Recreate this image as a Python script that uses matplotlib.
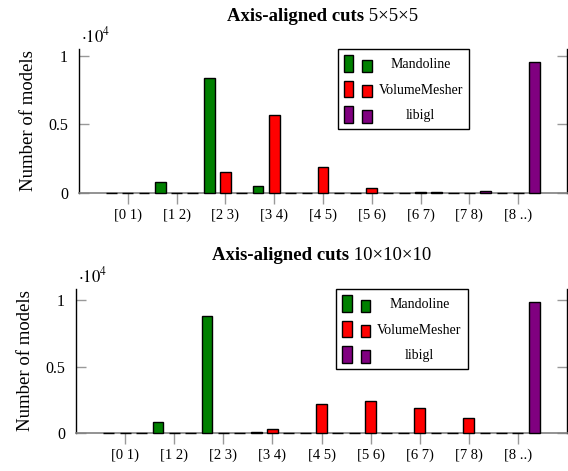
import matplotlib
matplotlib.use("Agg")
import matplotlib.pyplot as plt
import numpy as np
from matplotlib.patches import Rectangle
from matplotlib.legend_handler import HandlerBase

plt.rcParams['font.family'] = ['Liberation Serif', 'DejaVu Serif']
plt.rcParams['mathtext.fontset'] = 'stix'

categories = ["[0 1)", "[1 2)", "[2 3)", "[3 4)", "[4 5)", "[5 6)", "[6 7)", "[7 8)", "[8 ..)"]
series_names = ["Mandoline", "VolumeMesher", "libigl"]
colors = ["#008000", "#ff0000", "#800080"]

# 5x5x5
mandoline_5 = [0, 830, 8420, 530, 0, 0, 0, 0, 0]
volumemesher_5 = [0, 0, 1530, 5670, 1920, 370, 80, 30, 0]
libigl_5 = [0, 0, 0, 0, 0, 0, 50, 120, 9580]

# 10x10x10
mandoline_10 = [0, 850, 8800, 100, 0, 0, 0, 0, 0]
volumemesher_10 = [0, 0, 0, 280, 2160, 2380, 1860, 1130, 0]
libigl_10 = [0, 0, 0, 0, 0, 0, 0, 0, 9850]

titles = ["Axis-aligned cuts", "Axis-aligned cuts"]
title_suffix = [" 5\u00d75\u00d75", " 10\u00d710\u00d710"]

W, H = 568, 471
fig = plt.figure(figsize=(W / 100, H / 100), dpi=100)


class TwoRectHandler(HandlerBase):
    def create_artists(self, legend, orig_handle, xdescent, ydescent,
                       width, height, fontsize, trans):
        fc = orig_handle.get_facecolor()
        r1 = Rectangle((-xdescent, -ydescent), width * 0.34, height,
                       facecolor=fc, edgecolor='black', linewidth=1.0, transform=trans)
        r2 = Rectangle((-xdescent + width * 0.66, -ydescent), width * 0.34, height * 0.74,
                       facecolor=fc, edgecolor='black', linewidth=1.0, transform=trans)
        return [r1, r2]


def px_axes(left, top, right, bottom):
    return fig.add_axes([left / W, 1 - bottom / H, (right - left) / W, (bottom - top) / H])


def draw_panel(ax, data, ymax, title, suffix):
    x = np.arange(len(categories))
    bw = 0.22
    offs = [-0.33, 0.0, 0.33]
    handles = []
    for vals, off, c, name in zip(data, offs, colors, series_names):
        b = ax.bar(x + off, vals, width=bw, color=c, edgecolor='black',
                   linewidth=1.0, label=name, zorder=3, clip_on=False)
        handles.append(b.patches[0])
    ax.set_xlim(-1, 9)
    ax.set_ylim(0, ymax)
    ax.set_xticks(x)
    ax.set_xticklabels(categories, fontsize=10.5)
    ax.set_yticks([0, 5000, 10000])
    ax.set_yticklabels(["0", "0.5", "1"], fontsize=11.5)
    ax.tick_params(axis='y', direction='in', length=7, width=1, color='#999999',
                   right=True, pad=8)
    ax.tick_params(axis='x', direction='out', length=8, width=1, color='#999999', pad=3)
    ax.spines['top'].set_visible(False)
    ax.spines['bottom'].set_color('#808080')
    ax.spines['bottom'].set_linewidth(1.2)
    ax.spines['left'].set_linewidth(1.0)
    ax.spines['right'].set_linewidth(1.0)
    ax.set_ylabel("Number of models", fontsize=13.5, labelpad=8)
    ax.text(0.005, 1.02, r"$\cdot 10^4$", transform=ax.transAxes, fontsize=12,
            ha='left', va='bottom')
    leg = ax.legend(handles, series_names, handler_map={Rectangle: TwoRectHandler()},
                    loc='upper left', bbox_to_anchor=(0.53, 1.0), borderaxespad=0,
                    fancybox=False, framealpha=1, edgecolor='black', fontsize=10,
                    handlelength=2.0, handleheight=1.5, labelspacing=0.6,
                    handletextpad=0.5, borderpad=0.45)
    leg.get_frame().set_linewidth(1.0)
    # title with bold + normal parts
    t1 = ax.text(0.5, 1.0, title, transform=ax.transAxes, fontsize=13.5,
                 fontweight='bold', ha='left', va='bottom')
    t2 = ax.annotate(suffix, xy=(1, 0), xycoords=t1, fontsize=13.5,
                     ha='left', va='bottom')
    return leg, t1, t2


ax1 = px_axes(79, 49, 567, 193)
ax2 = px_axes(76, 289, 567, 433)
p1 = draw_panel(ax1, [mandoline_5, volumemesher_5, libigl_5], 10500, titles[0], title_suffix[0])
p2 = draw_panel(ax2, [mandoline_10, volumemesher_10, libigl_10], 10830, titles[1], title_suffix[1])

fig.canvas.draw()
renderer = fig.canvas.get_renderer()
for ax, (leg, t1, t2), ybase in [(ax1, p1, 21), (ax2, p2, 260)]:
    # center legend texts
    texts = leg.get_texts()
    widths = [t.get_window_extent(renderer).width for t in texts]
    wmax = max(widths)
    for t, w in zip(texts, widths):
        t.set_position(((wmax - w) / 2, 0))
    # center combined title
    w1 = t1.get_window_extent(renderer).width
    w2 = t2.get_window_extent(renderer).width
    bb = ax.get_window_extent(renderer)
    cx = (bb.x0 + bb.x1) / 2
    x_left = cx - (w1 + w2) / 2
    xa = (x_left - bb.x0) / bb.width
    ya = ((H - ybase - 4) - bb.y0) / bb.height
    t1.set_position((xa, ya))

fig.savefig("out.png", dpi=100)
